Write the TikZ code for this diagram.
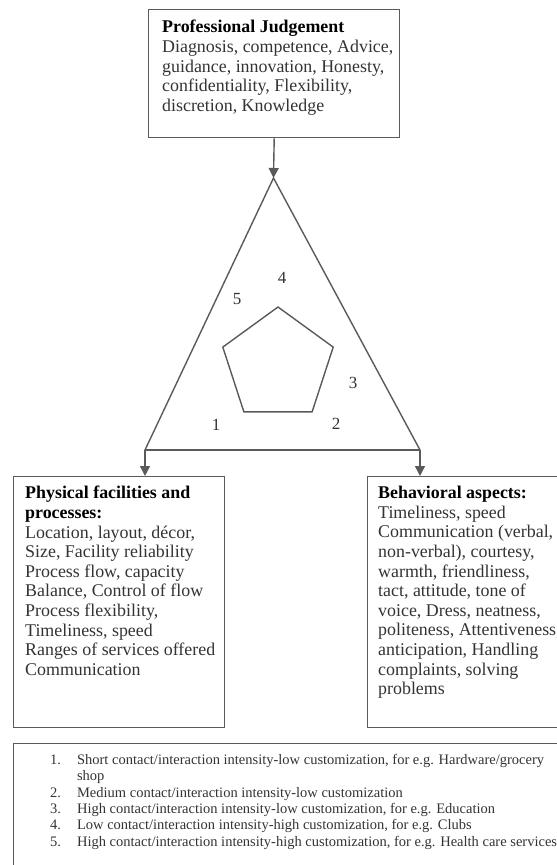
\documentclass[tikz,border=0pt]{standalone}
\usepackage{fontspec}
\setmainfont{Liberation Serif}
\usetikzlibrary{arrows.meta,calc}
\definecolor{ink}{HTML}{333333}
\definecolor{linec}{HTML}{5A5A5A}
\begin{document}
\begin{tikzpicture}[x=1pt,y=-1pt,
  box/.style={draw=linec,line width=1.4pt,inner sep=0pt,anchor=north west},
  txt/.style={text=ink,align=left,inner sep=0pt,anchor=north west,font=\fontsize{17.9}{19.6}\selectfont},
  num/.style={text=ink,inner sep=0pt,font=\fontsize{17}{19}\selectfont},
  listtxt/.style={text=ink,align=left,inner sep=0pt,anchor=north west,font=\fontsize{14.5}{16.3}\selectfont},
  conn/.style={draw=linec,line width=1.4pt},
  arr/.style={conn,-{Triangle[width=10pt,length=10pt]}}]
\useasboundingbox (0,0) rectangle (557,865);
% boxes
\node[box,minimum width=251pt,minimum height=128pt] (pj) at (148,9) {};
\node[txt] (pjt) at (162,20) {\textbf{\color{black}Professional Judgement}\\Diagnosis, competence, Advice,\\guidance, innovation, Honesty,\\confidentiality, Flexibility,\\discretion, Knowledge};
\node[box,minimum width=211pt,minimum height=251pt] (pf) at (13,476) {};
\node[txt] (pft) at (25,486) {\textbf{\color{black}Physical facilities and}\\\textbf{\color{black}processes:}\\Location, layout, décor,\\Size, Facility reliability\\Process flow, capacity\\Balance, Control of flow\\Process flexibility,\\Timeliness, speed\\Ranges of services offered\\Communication};
\node[box,minimum width=200pt,minimum height=251pt] (ba) at (367,476) {};
\node[txt] (bat) at (378,486) {\textbf{\color{black}Behavioral aspects:}\\Timeliness, speed\\Communication (verbal,\\non-verbal), courtesy,\\warmth, friendliness,\\tact, attitude, tone of\\voice, Dress, neatness,\\politeness, Attentiveness,\\anticipation, Handling\\complaints, solving\\problems};
\node[box,minimum width=560pt,minimum height=140pt] (lg) at (13,743) {};
\node[listtxt] (lgt) at (50,753) {\begin{tabular}{@{}r@{\hspace{16pt}}l@{}}
1. & Short contact/interaction intensity-low customization, for e.g. Hardware/grocery\\
   & shop\\
2. & Medium contact/interaction intensity-low customization\\
3. & High contact/interaction intensity-low customization, for e.g. Education\\
4. & Low contact/interaction intensity-high customization, for e.g. Clubs\\
5. & High contact/interaction intensity-high customization, for e.g. Health care services
\end{tabular}};
% triangle
\coordinate (apex) at (273.5,178);
\coordinate (bl) at (145,450);
\coordinate (br) at (420,450);
\draw[conn,line join=miter] (bl) -- (apex) -- (br);
\draw[conn] (bl) -- (br);
\draw[arr] (pj.south) -- (apex);
\draw[arr] (bl) -- (bl |- pf.north);
\draw[arr] (br) -- (br |- ba.north);
% pentagon
\coordinate (pc) at (278,365);
\draw[conn,line join=miter] ($(pc)+(0,-58)$) -- ($(pc)+(-55.2,-17.9)$) -- ($(pc)+(-34.1,46.9)$) -- ($(pc)+(34.1,46.9)$) -- ($(pc)+(55.2,-17.9)$) -- cycle;
% labels
\node[num] (n4) at (282,278) {4};
\node[num] (n5) at (237,299) {5};
\node[num] (n3) at (353,383) {3};
\node[num] (n1) at (216,425) {1};
\node[num] (n2) at (336,424) {2};
\end{tikzpicture}
\end{document}
